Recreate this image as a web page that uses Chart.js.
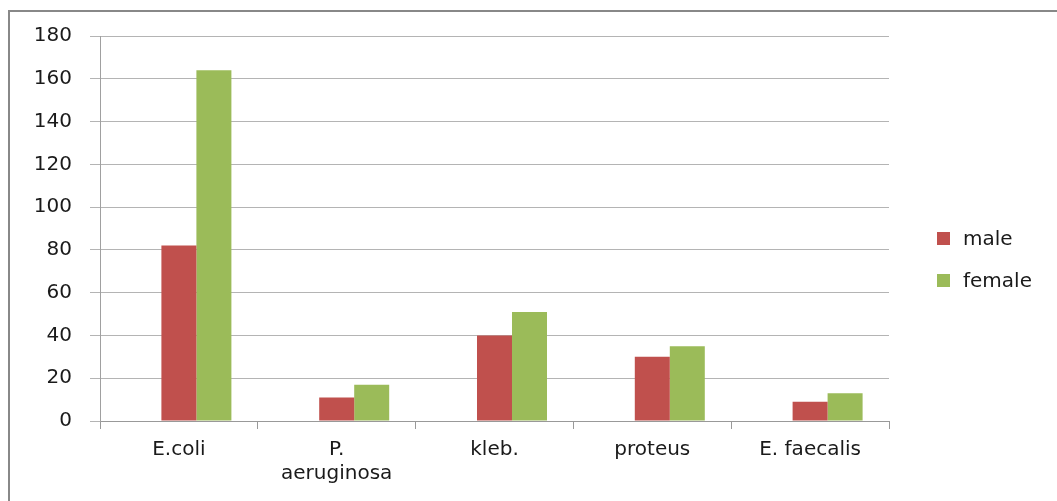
<!DOCTYPE html>
<html>
<head>
<meta charset="utf-8">
<script src="https://cdn.jsdelivr.net/npm/chart.js@4"></script>
<style>
  html, body { margin: 0; padding: 0; width: 1057px; height: 501px; overflow: hidden; background: #fff; }
  #wrap { position: absolute; left: 0; top: 0; width: 1057px; height: 501px; }
  #frame { position: absolute; left: 8px; top: 10px; width: 1200px; height: 700px; border: 2px solid #888888; box-sizing: border-box; pointer-events: none; }
  #legend { position: absolute; left: 937px; top: 0; font-family: "DejaVu Sans", sans-serif; font-size: 20px; color: #1a1a1a; }
  .item { position: absolute; left: 0; height: 20px; white-space: nowrap; }
  .sw { position: absolute; left: 0; top: 0; width: 13px; height: 13px; }
  .lb { position: absolute; left: 26px; top: -4px; line-height: 20px; }
</style>
</head>
<body>
<div id="wrap">
  <canvas id="c" width="1057" height="501"></canvas>
  <div id="frame"></div>
  <div id="legend"></div>
</div>
<script>
const categories = ["E.coli", ["P.", "aeruginosa"], "kleb.", "proteus", "E. faecalis"];
const seriesNames = ["male", "female"];
// the source chart has an empty first series slot, which shifts the visible bars right
const emptyValues = [null, null, null, null, null];
const maleValues = [82, 11, 40, 30, 9];
const femaleValues = [164, 17, 51, 35, 13];
const seriesColors = ["#C0504D", "#9BBB59"];
const yTicks = [0, 20, 40, 60, 80, 100, 120, 140, 160, 180];

const font = { family: "DejaVu Sans", size: 20 };
const textColor = "#1a1a1a";

const chart = new Chart(document.getElementById("c"), {
  type: "bar",
  data: {
    labels: categories,
    datasets: [
      { label: "", data: emptyValues, backgroundColor: "rgba(0,0,0,0)", borderWidth: 0 },
      { label: seriesNames[0], data: maleValues, backgroundColor: seriesColors[0], borderWidth: 0 },
      { label: seriesNames[1], data: femaleValues, backgroundColor: seriesColors[1], borderWidth: 0 }
    ]
  },
  options: {
    responsive: false,
    animation: false,
    devicePixelRatio: 1,
    layout: { padding: { top: 36, left: 0, right: 168, bottom: 0 } },
    datasets: { bar: { categoryPercentage: 0.6654, barPercentage: 1.0 } },
    plugins: { legend: { display: false }, tooltip: { enabled: false } },
    scales: {
      x: {
        offset: true,
        grid: { display: true, drawOnChartArea: false, drawTicks: true, tickLength: 8, color: "#999999", offset: true },
        border: { display: true, color: "#999999", width: 1 },
        ticks: { font: font, color: textColor, padding: 9, maxRotation: 0, autoSkip: false },
        afterFit: (s) => { s.height = 80; }
      },
      y: {
        min: yTicks[0],
        max: yTicks[yTicks.length - 1],
        afterBuildTicks: (s) => { s.ticks = yTicks.map(v => ({ value: v })); },
        grid: { color: "#b4b4b4", tickLength: 10, drawTicks: true },
        border: { display: true, color: "#a0a0a0", width: 1 },
        ticks: { font: font, color: textColor, padding: 18 },
        afterFit: (s) => { s.width = 100; }
      }
    }
  }
});

// HTML legend built from the chart's named datasets
const legend = document.getElementById("legend");
const legendTops = [232, 274];
chart.data.datasets.filter(ds => ds.label).forEach((ds, i) => {
  const it = document.createElement("div");
  it.className = "item";
  it.style.top = legendTops[i] + "px";
  const sw = document.createElement("div");
  sw.className = "sw";
  sw.style.background = ds.backgroundColor;
  const lb = document.createElement("div");
  lb.className = "lb";
  lb.textContent = ds.label;
  it.appendChild(sw); it.appendChild(lb);
  legend.appendChild(it);
});
</script>
</body>
</html>
